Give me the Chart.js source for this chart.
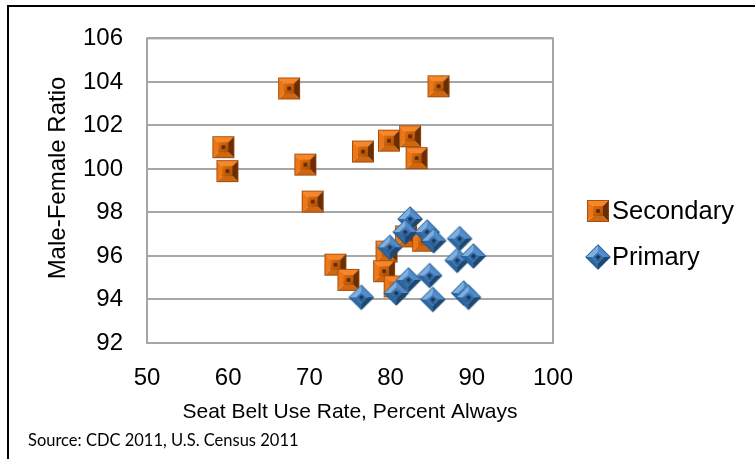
<!DOCTYPE html>
<html>
<head>
<meta charset="utf-8">
<script src="https://cdn.jsdelivr.net/npm/chart.js@4/dist/chart.umd.min.js"></script>
<style>
  html, body { margin: 0; padding: 0; background: #ffffff; }
  #wrap { position: relative; width: 755px; height: 459px; }
  canvas { display: block; }
</style>
</head>
<body>
<div id="wrap"><canvas id="chart" width="755" height="459"></canvas></div>
<script>
// Seat belt use (percent always) vs. male-female ratio, by enforcement law type
const secondaryRate  = [67.5, 85.9, 59.4, 59.9, 69.5, 76.6, 79.8, 82.4, 83.2, 70.4, 73.2, 74.8, 79.5, 79.2, 80.5, 81.9, 84.0];
const secondaryRatio = [103.7, 103.8, 101.0, 99.9, 100.2, 100.8, 101.3, 101.5, 100.5, 98.5, 95.6, 94.9, 96.2, 95.3, 94.6, 96.9, 96.7];

const primaryRate  = [82.4, 81.8, 84.5, 85.3, 88.5, 79.9, 88.2, 90.2, 82.2, 84.8, 80.7, 76.4, 85.2, 89.0, 89.6];
const primaryRatio = [97.7, 97.1, 97.1, 96.7, 96.8, 96.4, 95.8, 96.0, 94.9, 95.1, 94.3, 94.1, 94.0, 94.3, 94.1];

const xTicks = [50, 60, 70, 80, 90, 100];
const yTicks = [92, 94, 96, 98, 100, 102, 104, 106];

const seriesNames = ['Secondary', 'Primary'];
const sourceNote = 'Source: CDC 2011, U.S. Census 2011';
const xTitle = 'Seat Belt Use Rate, Percent Always';
const yTitle = 'Male-Female Ratio';

// Beveled marker sprite: four shaded edge facets around a flat face with a dark centre.
function bevelMarker(side, inset, shade, rotate) {
  const size = rotate ? Math.ceil(side * Math.SQRT2) + 2 : side + 2;
  const c = document.createElement('canvas');
  c.width = size; c.height = size;
  const g = c.getContext('2d');
  g.translate(size / 2, size / 2);
  if (rotate) g.rotate(Math.PI / 4);
  const h = side / 2, i = h - inset;
  const poly = (pts, fill) => {
    g.beginPath();
    g.moveTo(pts[0][0], pts[0][1]);
    for (let k = 1; k < pts.length; k++) g.lineTo(pts[k][0], pts[k][1]);
    g.closePath();
    g.fillStyle = fill;
    g.fill();
  };
  poly([[-h, -h], [h, -h], [i, -i], [-i, -i]], shade.top);
  poly([[h, -h], [h, h], [i, i], [i, -i]], shade.right);
  poly([[h, h], [-h, h], [-i, i], [i, i]], shade.bottom);
  poly([[-h, h], [-h, -h], [-i, -i], [-i, i]], shade.left);
  const grad = g.createLinearGradient(-i, -i, i, i);
  grad.addColorStop(0, shade.faceA);
  grad.addColorStop(1, shade.faceB);
  g.fillStyle = grad;
  g.fillRect(-i, -i, 2 * i, 2 * i);
  g.fillStyle = shade.dot;
  g.fillRect(-1.8, -1.8, 3.6, 3.6);
  g.strokeStyle = shade.edge;
  g.lineWidth = 0.8;
  g.strokeRect(-h + 0.4, -h + 0.4, side - 0.8, side - 0.8);
  return c;
}

const orangeMark = bevelMarker(22, 6, {
  top: '#F7862A', left: '#EC7718', right: '#6A2E04', bottom: '#D0660E',
  faceA: '#E06E0E', faceB: '#A94E08', dot: '#5A2903', edge: '#9C4707'
}, false);

const blueMark = bevelMarker(18, 5, {
  top: '#4F8ACB', left: '#7DB0E0', right: '#1C4874', bottom: '#2D68A6',
  faceA: '#4A86C6', faceB: '#24578F', dot: '#163A61', edge: '#1D4B7A'
}, true);

const toPoints = (xs, ys) => xs.map((x, k) => ({ x: x, y: ys[k] }));

const FONT = "'Liberation Sans', Arial, sans-serif";

// Page frame, plot frame, rotated y title, legend and source line
const decor = {
  id: 'decor',
  beforeDraw(chart) {
    const ctx = chart.ctx;
    ctx.save();
    ctx.fillStyle = '#ffffff';
    ctx.fillRect(0, 0, chart.width, chart.height);
    ctx.strokeStyle = '#000000';
    ctx.lineWidth = 2;
    ctx.beginPath();
    ctx.moveTo(8, chart.height);
    ctx.lineTo(8, 6);
    ctx.lineTo(chart.width, 6);
    ctx.stroke();
    ctx.restore();
  },
  beforeDatasetsDraw(chart) {
    const a = chart.chartArea, ctx = chart.ctx;
    ctx.save();
    ctx.strokeStyle = '#A6A6A6';
    ctx.lineWidth = 2;
    ctx.strokeRect(a.left, a.top, a.right - a.left, a.bottom - a.top);
    ctx.restore();
  },
  afterDraw(chart) {
    const ctx = chart.ctx;
    ctx.save();
    ctx.fillStyle = '#000000';
    // y axis title
    ctx.translate(58, 178);
    ctx.rotate(-Math.PI / 2);
    ctx.font = '24px ' + FONT;
    ctx.textAlign = 'center';
    ctx.textBaseline = 'middle';
    ctx.fillText(yTitle, 0, 0);
    ctx.restore();

    // legend
    ctx.save();
    ctx.font = '25.5px ' + FONT;
    ctx.textAlign = 'left';
    ctx.textBaseline = 'middle';
    ctx.fillStyle = '#000000';
    const marks = [orangeMark, blueMark];
    const rowsY = [211, 257];
    seriesNames.forEach((name, k) => {
      const m = marks[k];
      ctx.drawImage(m, 598 - m.width / 2, rowsY[k] - m.height / 2);
      ctx.fillText(name, 612, rowsY[k] + 1);
    });
    ctx.restore();

    // source note
    ctx.save();
    ctx.font = "16.5px Lato, 'Open Sans', sans-serif";
    ctx.fillStyle = '#000000';
    ctx.textAlign = 'left';
    ctx.textBaseline = 'middle';
    ctx.fillText(sourceNote, 28, 441);
    ctx.restore();
  }
};

new Chart(document.getElementById('chart'), {
  type: 'scatter',
  data: {
    datasets: [
      {
        label: seriesNames[0],
        data: toPoints(secondaryRate, secondaryRatio),
        pointStyle: orangeMark,
        pointRadius: 11,
        pointHoverRadius: 11,
        backgroundColor: '#E46C0A',
        borderColor: '#E46C0A',
        order: 2
      },
      {
        label: seriesNames[1],
        data: toPoints(primaryRate, primaryRatio),
        pointStyle: blueMark,
        pointRadius: 12,
        pointHoverRadius: 12,
        backgroundColor: '#2E75B6',
        borderColor: '#2E75B6',
        order: 1
      }
    ]
  },
  options: {
    responsive: false,
    animation: false,
    events: [],
    layout: { padding: { left: 0, top: 35, right: 202, bottom: 31 } },
    plugins: {
      legend: { display: false },
      tooltip: { enabled: false }
    },
    scales: {
      x: {
        type: 'linear',
        min: xTicks[0],
        max: xTicks[xTicks.length - 1],
        afterBuildTicks(scale) { scale.ticks = xTicks.map(v => ({ value: v })); },
        afterFit(scale) { scale.height = 85; },
        grid: { display: false, drawTicks: false },
        border: { display: false },
        ticks: {
          padding: 21,
          color: '#000000',
          font: { family: FONT, size: 24 },
          maxRotation: 0
        },
        title: {
          display: true,
          text: xTitle,
          color: '#000000',
          font: { family: FONT, size: 21 },
          padding: { top: 0, bottom: 3 }
        }
      },
      y: {
        type: 'linear',
        min: yTicks[0],
        max: yTicks[yTicks.length - 1],
        afterBuildTicks(scale) { scale.ticks = yTicks.map(v => ({ value: v })); },
        afterFit(scale) { scale.width = 147; },
        grid: { color: '#A6A6A6', lineWidth: 2, drawTicks: false },
        border: { display: false },
        ticks: {
          padding: 24,
          color: '#000000',
          font: { family: FONT, size: 24 }
        }
      }
    }
  },
  plugins: [decor]
});
</script>
</body>
</html>
